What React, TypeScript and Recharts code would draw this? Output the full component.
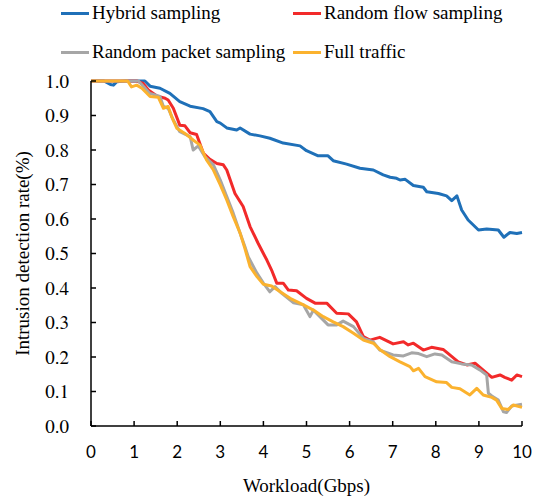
import { LineChart, Line, XAxis, YAxis } from "recharts";

const xTicks = [0, 1, 2, 3, 4, 5, 6, 7, 8, 9, 10];
const yTicks = [0, 0.1, 0.2, 0.3, 0.4, 0.5, 0.6, 0.7, 0.8, 0.9, 1.0];

// [workload (Gbps), detection rate]
const hybrid: [number, number][] = [
  [0, 1.0], [0.3, 1.0], [0.45, 0.99], [0.52, 0.988], [0.6, 0.998], [0.8, 1.0],
  [1.25, 1.0], [1.37, 0.985], [1.6, 0.979], [1.83, 0.964], [2.06, 0.94], [2.3, 0.927],
  [2.6, 0.92], [2.76, 0.911], [2.92, 0.882], [3.0, 0.878], [3.15, 0.864], [3.38, 0.858],
  [3.46, 0.864], [3.69, 0.846], [3.92, 0.841], [4.15, 0.834], [4.46, 0.82], [4.85, 0.812],
  [5.0, 0.798], [5.27, 0.783], [5.5, 0.783], [5.62, 0.769], [5.93, 0.759], [6.24, 0.747],
  [6.55, 0.742], [6.78, 0.728], [6.94, 0.721], [7.09, 0.718], [7.17, 0.713], [7.29, 0.715],
  [7.48, 0.697], [7.71, 0.692], [7.79, 0.679], [8.06, 0.674], [8.25, 0.667], [8.37, 0.653],
  [8.49, 0.667], [8.6, 0.626], [8.75, 0.597], [8.99, 0.568], [9.18, 0.571], [9.45, 0.568],
  [9.58, 0.547], [9.72, 0.561], [9.88, 0.558], [10, 0.561],
];

const randomFlow: [number, number][] = [
  [0, 1.0], [1.06, 1.0], [1.21, 0.993], [1.33, 0.974], [1.52, 0.957], [1.72, 0.95],
  [1.79, 0.945], [1.91, 0.921], [2.06, 0.872], [2.18, 0.87], [2.3, 0.85], [2.45, 0.845],
  [2.61, 0.79], [2.76, 0.773], [2.92, 0.761], [3.07, 0.757], [3.15, 0.742], [3.34, 0.674],
  [3.53, 0.636], [3.69, 0.578], [3.88, 0.529], [4.0, 0.5], [4.08, 0.481], [4.19, 0.452],
  [4.31, 0.414], [4.46, 0.414], [4.58, 0.394], [4.77, 0.392], [5.0, 0.37], [5.2, 0.356],
  [5.47, 0.356], [5.7, 0.327], [5.97, 0.325], [6.16, 0.302], [6.32, 0.259], [6.47, 0.249],
  [6.7, 0.257], [7.01, 0.238], [7.25, 0.244], [7.36, 0.235], [7.48, 0.24], [7.71, 0.22],
  [7.9, 0.228], [8.17, 0.222], [8.29, 0.21], [8.52, 0.186], [8.72, 0.177], [8.91, 0.182],
  [9.1, 0.162], [9.3, 0.141], [9.49, 0.148], [9.6, 0.141], [9.76, 0.133], [9.88, 0.148],
  [10, 0.143],
];

const randomPacket: [number, number][] = [
  [0, 1.0], [1.1, 1.0], [1.37, 0.964], [1.6, 0.955], [1.68, 0.926], [1.79, 0.921],
  [1.91, 0.887], [2.06, 0.853], [2.3, 0.839], [2.37, 0.8], [2.49, 0.812], [2.64, 0.781],
  [2.84, 0.757], [3.0, 0.713], [3.15, 0.665], [3.3, 0.617], [3.46, 0.559], [3.57, 0.52],
  [3.65, 0.49], [3.85, 0.443], [4.0, 0.414], [4.15, 0.389], [4.27, 0.404], [4.42, 0.385],
  [4.7, 0.357], [4.93, 0.351], [5.08, 0.317], [5.16, 0.336], [5.31, 0.317], [5.5, 0.293],
  [5.7, 0.293], [5.85, 0.304], [6.09, 0.288], [6.32, 0.254], [6.55, 0.244], [6.7, 0.22],
  [7.01, 0.206], [7.25, 0.203], [7.44, 0.212], [7.6, 0.21], [7.79, 0.201], [7.98, 0.209],
  [8.14, 0.206], [8.37, 0.186], [8.6, 0.18], [8.83, 0.177], [9.03, 0.162], [9.18, 0.148],
  [9.22, 0.095], [9.3, 0.087], [9.45, 0.075], [9.57, 0.041], [9.64, 0.039], [9.76, 0.058],
  [10, 0.063],
];

const fullTraffic: [number, number][] = [
  [0, 1.0], [0.85, 1.0], [0.94, 0.983], [1.06, 0.988], [1.18, 0.979], [1.37, 0.955],
  [1.56, 0.953], [1.68, 0.921], [1.79, 0.926], [1.87, 0.897], [1.99, 0.863], [2.18, 0.848],
  [2.37, 0.829], [2.53, 0.814], [2.68, 0.771], [2.84, 0.742], [3.0, 0.699], [3.15, 0.655],
  [3.3, 0.607], [3.46, 0.559], [3.57, 0.515], [3.69, 0.462], [3.85, 0.433], [4.0, 0.411],
  [4.19, 0.406], [4.39, 0.389], [4.62, 0.37], [4.93, 0.351], [5.16, 0.336], [5.39, 0.317],
  [5.62, 0.302], [5.85, 0.288], [6.09, 0.269], [6.32, 0.249], [6.55, 0.24], [6.7, 0.222],
  [6.94, 0.201], [7.17, 0.186], [7.4, 0.172], [7.48, 0.16], [7.6, 0.167], [7.75, 0.143],
  [8.02, 0.128], [8.25, 0.126], [8.37, 0.112], [8.56, 0.108], [8.79, 0.09], [8.95, 0.109],
  [9.1, 0.09], [9.3, 0.083], [9.41, 0.075], [9.53, 0.051], [9.68, 0.048], [9.8, 0.061],
  [10, 0.054],
];

const series = [
  { name: "Hybrid sampling", color: "#1F70B8", points: hybrid },
  { name: "Random flow sampling", color: "#F22A2A", points: randomFlow },
  { name: "Random packet sampling", color: "#A6A6A6", points: randomPacket },
  { name: "Full traffic", color: "#FBB22E", points: fullTraffic },
];

const toRows = (pts: [number, number][]) => pts.map(([w, rate]) => ({ w, rate }));

const svgSerif = "FreeSerif";
const titleSerif = "Times New Roman";
const htmlSerif = "'Liberation Serif'";

// 2x2 legend above the plot: swatch and label are separate boxes
const legendPos = [
  { left: 61, top: 2 },
  { left: 293, top: 2 },
  { left: 61, top: 41 },
  { left: 293, top: 41 },
];

function ChartLegend() {
  return (
    <>
      {series.map((s, i) => (
        <div key={s.name}>
          <div
            style={{
              position: "absolute",
              left: legendPos[i].left,
              top: legendPos[i].top + 10,
              width: 28,
              height: 3,
              background: s.color,
            }}
          />
          <div
            style={{
              position: "absolute",
              left: legendPos[i].left + 31,
              top: legendPos[i].top,
              fontFamily: htmlSerif,
              fontSize: 19,
              lineHeight: "22px",
            }}
          >
            {s.name}
          </div>
        </div>
      ))}
    </>
  );
}

export default function App() {
  return (
    <div style={{ position: "absolute", left: 0, top: 0, width: 538, height: 502, background: "#fff" }}>
      <LineChart width={538} height={502} margin={{ top: 81, right: 16, bottom: 0, left: 0 }}>
        <XAxis
          dataKey="w"
          type="number"
          domain={[0, 10]}
          ticks={xTicks}
          interval={0}
          height={76}
          tickSize={-5}
          tickMargin={25}
          axisLine={{ stroke: "#000", strokeWidth: 1.5 }}
          tickLine={{ stroke: "#000", strokeWidth: 1.5 }}
          tick={{ fill: "#000", fontSize: 17, fontFamily: "Lato" }}
          label={{
            value: "Workload(Gbps)",
            position: "insideBottom",
            offset: 10,
            fill: "#000",
            fontSize: 19,
            fontFamily: titleSerif,
          }}
        />
        <YAxis
          type="number"
          domain={[0, 1]}
          ticks={yTicks}
          interval={0}
          width={91}
          tickSize={-5}
          tickMargin={27}
          tickFormatter={(v: number) => v.toFixed(1)}
          axisLine={{ stroke: "#000", strokeWidth: 1.5 }}
          tickLine={{ stroke: "#000", strokeWidth: 1.5 }}
          tick={{ fill: "#000", fontSize: 19, fontFamily: svgSerif }}
          label={{
            content: () => (
              <text
                x={22}
                y={253.5}
                transform="rotate(-90 22 253.5)"
                textAnchor="middle"
                dominantBaseline="central"
                fill="#000"
                fontSize={19}
                fontFamily={titleSerif}
              >
                Intrusion detection rate(%)
              </text>
            ),
          }}
        />
        {series.map((s) => (
          <Line
            key={s.name}
            name={s.name}
            data={toRows(s.points)}
            dataKey="rate"
            type="linear"
            stroke={s.color}
            strokeWidth={3}
            strokeLinejoin="round"
            dot={false}
            activeDot={false}
            isAnimationActive={false}
          />
        ))}
      </LineChart>
      <ChartLegend />
    </div>
  );
}
